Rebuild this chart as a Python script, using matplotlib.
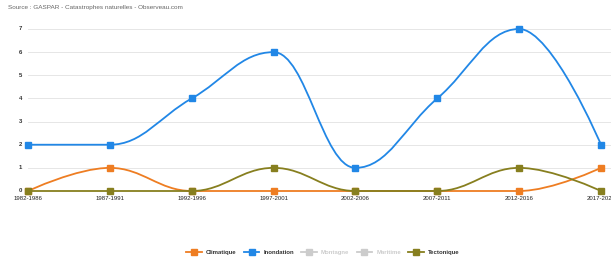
import matplotlib
matplotlib.use("Agg")
import matplotlib.pyplot as plt
from matplotlib.path import Path
from matplotlib.patches import PathPatch
from matplotlib.lines import Line2D

plt.rcParams["font.family"] = ["Liberation Sans", "DejaVu Sans"]

periods = ["1982-1986", "1987-1991", "1992-1996", "1997-2001", "2002-2006",
           "2007-2011", "2012-2016", "2017-2021"]
climatique = [0, 1, 0, 0, 0, 0, 0, 1]
inondation = [2, 2, 4, 6, 1, 4, 7, 2]
montagne = [0, 0, 0, 0, 0, 0, 0, 0]
maritime = [0, 0, 0, 0, 0, 0, 0, 0]
tectonique = [0, 0, 0, 1, 0, 0, 1, 0]
yticks = [0, 1, 2, 3, 4, 5, 6, 7]

series = [
    ("Climatique", climatique, "#ee7d22", True),
    ("Inondation", inondation, "#2187e6", True),
    ("Montagne", montagne, "#cccccc", False),
    ("Maritime", maritime, "#cccccc", False),
    ("Tectonique", tectonique, "#877f1f", True),
]


def spline_path(xs, ys, smoothing=1.5):
    n = len(xs)
    denom = smoothing + 1
    left = [None] * n
    right = [None] * n
    for i in range(1, n - 1):
        x, y = xs[i], ys[i]
        lx, ly = xs[i - 1], ys[i - 1]
        nx, ny = xs[i + 1], ys[i + 1]
        lcx = (smoothing * x + lx) / denom
        lcy = (smoothing * y + ly) / denom
        rcx = (smoothing * x + nx) / denom
        rcy = (smoothing * y + ny) / denom
        if rcx != lcx:
            corr = ((rcy - lcy) * (rcx - x)) / (rcx - lcx) + y - rcy
            lcy += corr
            rcy += corr
        if lcy > ly and lcy > y:
            lcy = max(ly, y)
            rcy = 2 * y - lcy
        elif lcy < ly and lcy < y:
            lcy = min(ly, y)
            rcy = 2 * y - lcy
        if rcy > ny and rcy > y:
            rcy = max(ny, y)
            lcy = 2 * y - rcy
        elif rcy < ny and rcy < y:
            rcy = min(ny, y)
            lcy = 2 * y - rcy
        left[i] = (lcx, lcy)
        right[i] = (rcx, rcy)
    verts = [(xs[0], ys[0])]
    codes = [Path.MOVETO]
    for i in range(1, n):
        c1 = right[i - 1] if right[i - 1] is not None else (xs[i - 1], ys[i - 1])
        c2 = left[i] if left[i] is not None else (xs[i], ys[i])
        verts += [c1, c2, (xs[i], ys[i])]
        codes += [Path.CURVE4] * 3
    return Path(verts, codes)


W, H = 611, 260
fig = plt.figure(figsize=(W / 100, H / 100), dpi=100)
x0, x1 = 28, 611
y0, y1 = 191, 29
ax = fig.add_axes([x0 / W, (H - y0) / H, (x1 - x0) / W, (y0 - y1) / H])
step = (601 - 28) / 7
ax.set_xlim(0, (x1 - x0) / step)
ax.set_ylim(0, 7)
for s in ax.spines.values():
    s.set_visible(False)
ax.set_xticks([])
ax.set_yticks([])

FS = 4.3
for t in yticks:
    ax.axhline(t, color="#e6e6e6", lw=0.7, zorder=0)
    ax.text(-6 / step, t, str(t), ha="right", va="center", fontsize=FS,
            color="#333333", fontweight="bold")

xs = list(range(len(periods)))
for i, p in enumerate(periods):
    ax.text(i, -0.22, p, ha="center", va="top", fontsize=FS, color="#222222",
            clip_on=False)

LW = 1.3
MS = 4.5
for k, (name, vals, color, visible) in enumerate(series):
    if not visible:
        continue
    path = spline_path(xs, vals)
    patch = PathPatch(path, facecolor="none", edgecolor=color, lw=LW,
                      zorder=2 + k, clip_on=False)
    ax.add_patch(patch)
    ax.plot(xs, vals, linestyle="none", marker="s", markersize=MS,
            color=color, zorder=3 + k, clip_on=False)

fig.text(8 / W, 1 - 8 / H, "Source : GASPAR - Catastrophes naturelles - Observeau.com",
         ha="left", va="center", fontsize=4.6, color="#666666")

handles = []
for name, vals, color, visible in series:
    handles.append(Line2D([0], [0], color=color, lw=LW, marker="s", markersize=MS))
leg = fig.legend(handles, [s[0] for s in series], loc="center",
                 bbox_to_anchor=(323 / W, 1 - 252 / H), ncol=5, frameon=False,
                 handlelength=2.6, columnspacing=1.2,
                 handletextpad=0.7, prop={"weight": "bold", "size": FS})
for txt, (name, vals, color, visible) in zip(leg.get_texts(), series):
    txt.set_color("#333333" if visible else "#cccccc")

fig.savefig("out.png", dpi=100)
